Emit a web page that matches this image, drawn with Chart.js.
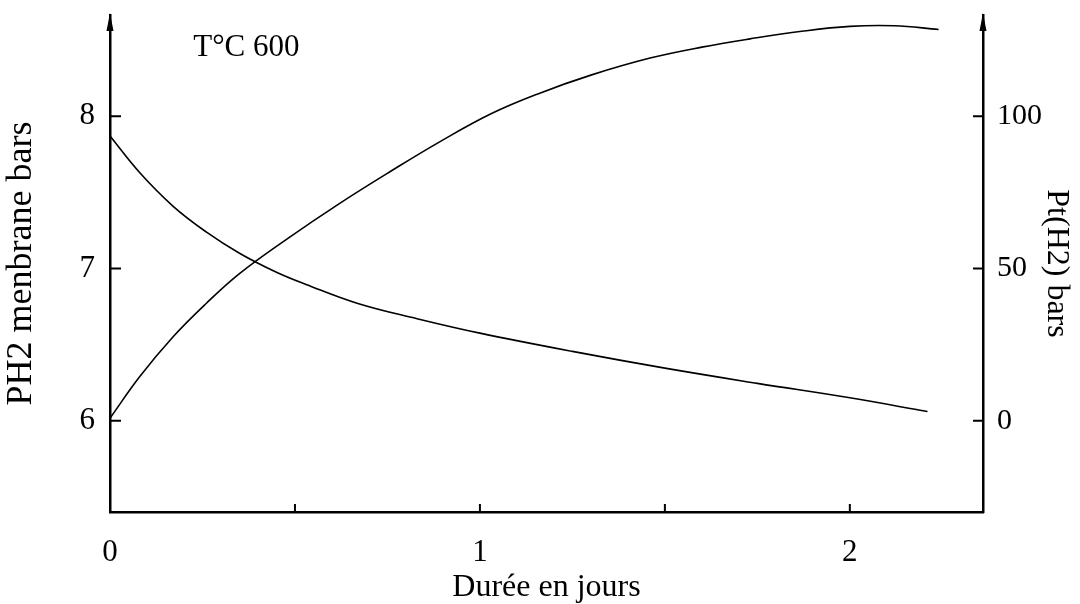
<!DOCTYPE html>
<html>
<head>
<meta charset="utf-8">
<script src="https://cdn.jsdelivr.net/npm/chart.js@4.4.1/dist/chart.umd.min.js"></script>
<style>
  html, body { margin: 0; padding: 0; background: #fff; }
  #wrap { width: 1080px; height: 604px; }
</style>
</head>
<body>
<div id="wrap"><canvas id="chart-h2"></canvas></div>
<script>
// PH2 membrane (bars, left axis) against time in days
var membraneDays = [0, 0.08, 0.17, 0.26, 0.35, 0.45, 0.53, 0.67, 0.83, 1.0, 1.25, 1.5, 1.75, 2.0, 2.21];
var membranePressure = [7.87, 7.63, 7.41, 7.24, 7.10, 6.975, 6.895, 6.77, 6.67, 6.575, 6.455, 6.345, 6.245, 6.15, 6.06];

// Pt(H2) (bars, right axis) against time in days
var totalDays = [0, 0.08, 0.17, 0.26, 0.35, 0.48, 0.62, 0.76, 0.89, 1.03, 1.16, 1.3, 1.46, 1.6, 1.73, 1.87, 2.0, 2.12, 2.24];
var totalPressure = [0.8, 14.4, 27.5, 38.5, 48.3, 59.8, 71.3, 82, 91.5, 100.8, 107.5, 113.5, 119.1, 122.7, 125.4, 127.9, 129.5, 129.7, 128.5];

var dayTicks = [0, 1, 2];
var dayMarks = [0.5, 1, 1.5, 2];
var leftTicks = [6, 7, 8];
var rightTicks = [0, 50, 100];

var serif = '"Liberation Serif", "Times New Roman", serif';

function points(xs, ys) {
    return xs.map(function (x, i) { return { x: x, y: ys[i] }; });
}

function fixedTicks(values) {
    return function (scale) {
        scale.ticks = values.map(function (v) { return { value: v }; });
    };
}

// inward tick marks, arrowheads on the vertical axes and the temperature note
var axisMarks = {
    id: 'axisMarks',
    afterDraw: function (chart) {
        var ctx = chart.ctx, area = chart.chartArea;
        var x = chart.scales.x, y = chart.scales.y, y2 = chart.scales.y2;
        ctx.save();
        ctx.strokeStyle = '#000';
        ctx.fillStyle = '#000';
        ctx.lineWidth = 2;
        ctx.beginPath();
        leftTicks.forEach(function (v) {
            var py = y.getPixelForValue(v);
            ctx.moveTo(area.left, py);
            ctx.lineTo(area.left + 11, py);
        });
        rightTicks.forEach(function (v) {
            var py = y2.getPixelForValue(v);
            ctx.moveTo(area.right, py);
            ctx.lineTo(area.right - 10, py);
        });
        dayMarks.forEach(function (v) {
            var px = x.getPixelForValue(v);
            ctx.moveTo(px, area.bottom);
            ctx.lineTo(px, area.bottom - 8);
        });
        ctx.stroke();

        [area.left, area.right].forEach(function (px) {
            ctx.beginPath();
            ctx.moveTo(px, area.top - 2);
            ctx.lineTo(px - 3.5, area.top + 16);
            ctx.lineTo(px + 3.5, area.top + 16);
            ctx.closePath();
            ctx.fill();
        });

        ctx.font = '31px ' + serif;
        ctx.textAlign = 'left';
        ctx.textBaseline = 'middle';
        ctx.fillText('T°C 600', x.getPixelForValue(0.225), y.getPixelForValue(8.45));
        ctx.restore();
    }
};

var ctx = document.getElementById('chart-h2');
new Chart(ctx, {
    type: 'line',
    data: {
        datasets: [
            {
                label: 'PH2 membrane',
                data: points(membraneDays, membranePressure),
                yAxisID: 'y',
                borderColor: '#000',
                borderWidth: 1.6,
                pointRadius: 0,
                tension: 0.4,
                fill: false
            },
            {
                label: 'Pt(H2)',
                data: points(totalDays, totalPressure),
                yAxisID: 'y2',
                borderColor: '#000',
                borderWidth: 1.6,
                pointRadius: 0,
                tension: 0.4,
                fill: false
            }
        ]
    },
    options: {
        responsive: true,
        maintainAspectRatio: false,
        animation: false,
        events: [],
        layout: { padding: { top: 15, left: 0, right: 0, bottom: 0 } },
        plugins: {
            legend: { display: false },
            tooltip: { enabled: false }
        },
        scales: {
            x: {
                type: 'linear',
                min: 0,
                max: 2.36,
                afterBuildTicks: fixedTicks(dayTicks),
                afterFit: function (scale) {
                    scale.height = 92;
                    scale.paddingLeft = 0;
                    scale.paddingRight = 0;
                },
                grid: { display: false, drawTicks: false },
                border: { display: true, color: '#000', width: 2.5 },
                ticks: {
                    color: '#000',
                    padding: 22,
                    font: { family: serif, size: 31 },
                    maxRotation: 0
                },
                title: {
                    display: true,
                    text: 'Durée en jours',
                    color: '#000',
                    font: { family: serif, size: 32, lineHeight: 1 },
                    padding: { top: 0, bottom: 0 }
                }
            },
            y: {
                position: 'left',
                min: 5.4,
                max: 8.665,
                afterBuildTicks: fixedTicks(leftTicks),
                afterFit: function (scale) {
                    scale.width = 110;
                    scale.paddingTop = 0;
                    scale.paddingBottom = 0;
                },
                grid: { display: false, drawTicks: false },
                border: { display: true, color: '#000', width: 2.5 },
                ticks: {
                    color: '#000',
                    padding: 15,
                    font: { family: serif, size: 31 }
                },
                title: {
                    display: true,
                    text: 'PH2 menbrane bars',
                    color: '#000',
                    font: { family: serif, size: 36 },
                    padding: { top: 0, bottom: 0 }
                }
            },
            y2: {
                position: 'right',
                min: -30,
                max: 133.25,
                afterBuildTicks: fixedTicks(rightTicks),
                afterFit: function (scale) {
                    scale.width = 97;
                    scale.paddingTop = 0;
                    scale.paddingBottom = 0;
                },
                grid: { display: false, drawTicks: false },
                border: { display: true, color: '#000', width: 2.5 },
                ticks: {
                    color: '#000',
                    padding: 14,
                    font: { family: serif, size: 30 }
                },
                title: {
                    display: true,
                    text: 'Pt(H2) bars',
                    color: '#000',
                    font: { family: serif, size: 32 },
                    padding: { top: 4, bottom: 0 }
                }
            }
        }
    },
    plugins: [axisMarks]
});
</script>
</body>
</html>
